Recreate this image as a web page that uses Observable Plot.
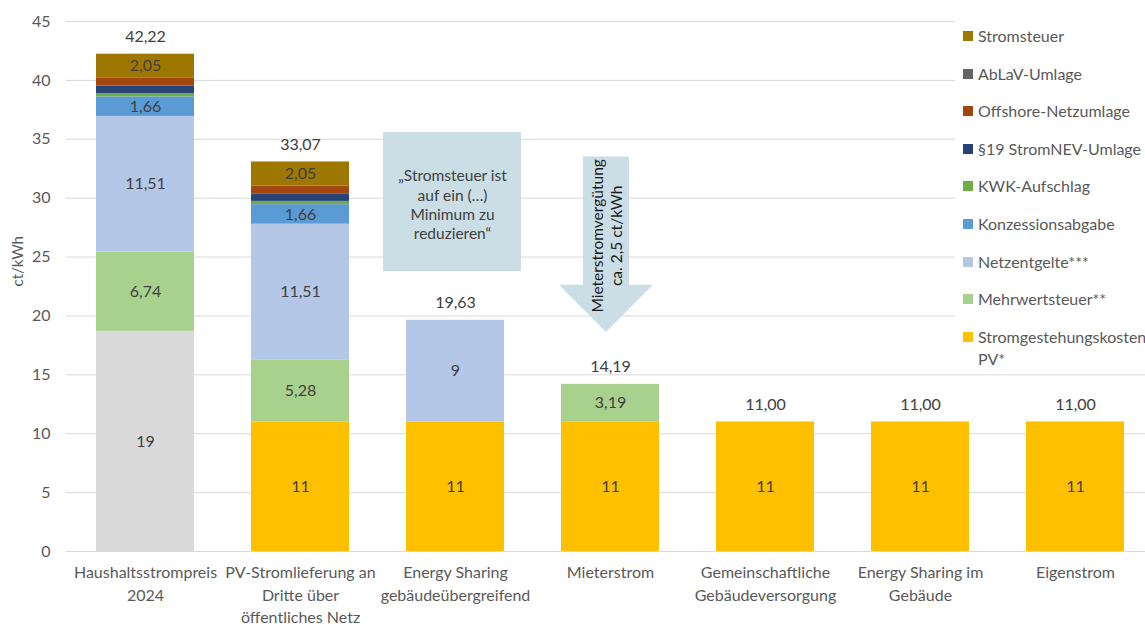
<!DOCTYPE html>
<html><head><meta charset="utf-8">
<script src="https://cdn.jsdelivr.net/npm/d3@7"></script>
<script src="https://cdn.jsdelivr.net/npm/@observablehq/plot@0.6"></script>
<style>
body{margin:0;overflow:hidden;background:#fff;font-family:Lato,sans-serif}
#wrap{position:relative;width:1145px;height:624px}
#legend{position:absolute;left:955px;top:20px;width:190px;height:352px;background:#fff;overflow:hidden}
.li{position:absolute;left:8px;display:flex;align-items:flex-start;font-size:16px;color:#595959;line-height:22px}
.sw{width:10px;height:10px;margin-top:6px;margin-right:5px;flex:none}
</style></head><body><div id="wrap"><div id="legend"></div></div>
<script>
const categories = ["Haushaltsstrompreis 2024","PV-Stromlieferung an Dritte über öffentliches Netz","Energy Sharing gebäudeübergreifend","Mieterstrom","Gemeinschaftliche Gebäudeversorgung","Energy Sharing im Gebäude","Eigenstrom"];
const xLabels = ["Haushaltsstrompreis\n2024","PV-Stromlieferung an\nDritte über\nöffentliches Netz","Energy Sharing\ngebäudeübergreifend","Mieterstrom","Gemeinschaftliche\nGebäudeversorgung","Energy Sharing im\nGebäude","Eigenstrom"];
// stack order bottom -> top
const components = ["Haushaltsstrompreis (Basis)","Stromgestehungskosten PV*","Mehrwertsteuer**","Netzentgelte***","Konzessionsabgabe","KWK-Aufschlag","§19 StromNEV-Umlage","Offshore-Netzumlage","AbLaV-Umlage","Stromsteuer"];
const colors = ["#d9d9d9","#ffc000","#a9d18e","#b4c7e7","#5b9bd5","#70ad47","#264478","#a4460f","#636363","#9e7700"];
const basis        = [18.69, 0, 0, 0, 0, 0, 0];
const pvKosten     = [0, 11, 11, 11, 11, 11, 11];
const mwst         = [6.74, 5.28, 0, 3.19, 0, 0, 0];
const netzentgelte = [11.51, 11.51, 8.63, 0, 0, 0, 0];
const konzession   = [1.66, 1.66, 0, 0, 0, 0, 0];
const kwk          = [0.275, 0.275, 0, 0, 0, 0, 0];
const par19        = [0.643, 0.643, 0, 0, 0, 0, 0];
const offshore     = [0.656, 0.656, 0, 0, 0, 0, 0];
const ablav        = [0, 0, 0, 0, 0, 0, 0];
const stromsteuer  = [2.05, 2.05, 0, 0, 0, 0, 0];
const series = [basis, pvKosten, mwst, netzentgelte, konzession, kwk, par19, offshore, ablav, stromsteuer];
// labels shown inside segments
const basisLabels   = ["19","","","","","",""];
const pvLabels      = ["","11","11","11","11","11","11"];
const mwstLabels    = ["6,74","5,28","","3,19","","",""];
const netzLabels    = ["11,51","11,51","9","","","",""];
const konzLabels    = ["1,66","1,66","","","","",""];
const steuerLabels  = ["2,05","2,05","","","","",""];
const empty = ["","","","","","",""];
const labels = [basisLabels, pvLabels, mwstLabels, netzLabels, konzLabels, empty, empty, empty, empty, steuerLabels];
const legendItems = ["Stromsteuer","AbLaV-Umlage","Offshore-Netzumlage","§19 StromNEV-Umlage","KWK-Aufschlag","Konzessionsabgabe","Netzentgelte***","Mehrwertsteuer**","Stromgestehungskosten PV*"];
const yTicks = [0,5,10,15,20,25,30,35,40,45];
const boxNote = {category: categories[2], y1: 23.77, y2: 35.57, yText: 29.5, text: "„Stromsteuer ist\nauf ein (…)\nMinimum zu\nreduzieren“"};
const arrowNote = {category: categories[3], top: 33.5, headBase: 22.6, tip: 18.6, yText: 26.8, text: "Mieterstromvergütung\nca. 2,5 ct/kWh"};

const data = [];
categories.forEach((c, i) => components.forEach((k, j) => {
  data.push({category: c, component: k, value: series[j][i], label: labels[j][i]});
}));
const totals = categories.map((c, i) => ({category: c, total: d3.sum(series, s => s[i])}));
const fmt = v => v.toFixed(2).replace(".", ",");

const plot = Plot.plot({
  width: 1145, height: 624,
  marginLeft: 66, marginRight: 0, marginTop: 21, marginBottom: 73,
  style: {fontFamily: "Lato, sans-serif", background: "#fff"},
  x: {domain: categories, range: [66, 1153], paddingInner: 0.37, paddingOuter: 0.185},
  y: {domain: [0, 45]},
  color: {domain: components, range: colors},
  marks: [
    Plot.gridY(yTicks, {stroke: "#d9d9d9", strokeOpacity: 1}),
    Plot.axisY({ticks: yTicks, tickSize: 0, tickPadding: 16, fontSize: 16, fill: "#595959", label: null}),
    Plot.axisX({tickSize: 0, tickPadding: 11, fontSize: 16, lineHeight: 1.4, fill: "#595959", label: null,
      tickFormat: d => xLabels[categories.indexOf(d)]}),
    Plot.text(["ct/kWh"], {frameAnchor: "left", rotate: -90, dx: -48, fontSize: 15, fill: "#595959"}),
    Plot.barY(data, {x: "category", y: "value", fill: "component", order: components}),
    Plot.text(data, Plot.stackY({x: "category", y: "value", z: "component", order: components, text: "label", fontSize: 16, fill: "#404040"})),
    Plot.text(totals, {x: "category", y: "total", text: d => fmt(d.total), dy: -17, fontSize: 16, fill: "#404040"}),
    Plot.barY([boxNote], {x: "category", y1: "y1", y2: "y2", fill: "#cbdde5", insetLeft: -23, insetRight: -17}),
    Plot.text([boxNote], {x: "category", y: "yText", text: "text", dx: -3, fontSize: 15.5, lineHeight: 1.25, fill: "#404040"}),
    (index, scales, values, dims) => {
      const sx = scales.x, sy = scales.y;
      const bw = (sx.bandwidth ? sx.bandwidth() : 98);
      const cx = sx(arrowNote.category) + bw / 2 - 4;
      const pts = [[cx - 23, sy(arrowNote.top)], [cx + 23, sy(arrowNote.top)], [cx + 23, sy(arrowNote.headBase)],
        [cx + 47, sy(arrowNote.headBase)], [cx, sy(arrowNote.tip)], [cx - 47, sy(arrowNote.headBase)], [cx - 23, sy(arrowNote.headBase)]];
      const p = document.createElementNS("http://www.w3.org/2000/svg", "polygon");
      p.setAttribute("points", pts.map(d => d.join(",")).join(" "));
      p.setAttribute("fill", "#cbdde5");
      return p;
    },
    Plot.text([arrowNote], {x: "category", y: "yText", text: "text", rotate: -90, dx: -4, fontSize: 15.5, lineHeight: 1.22, fill: "#1a1a1a"})
  ]
});
document.getElementById("wrap").prepend(plot);

const legend = document.getElementById("legend");
legendItems.forEach((name, i) => {
  const row = document.createElement("div");
  row.className = "li";
  row.style.top = (5 + i * 37.6) + "px";
  const sw = document.createElement("span");
  sw.className = "sw";
  sw.style.background = colors[components.indexOf(name)];
  const t = document.createElement("span");
  t.textContent = name;
  if (i === legendItems.length - 1) t.style.width = "190px"; else t.style.whiteSpace = "nowrap";
  row.append(sw, t);
  legend.append(row);
});
</script>
</body></html>
